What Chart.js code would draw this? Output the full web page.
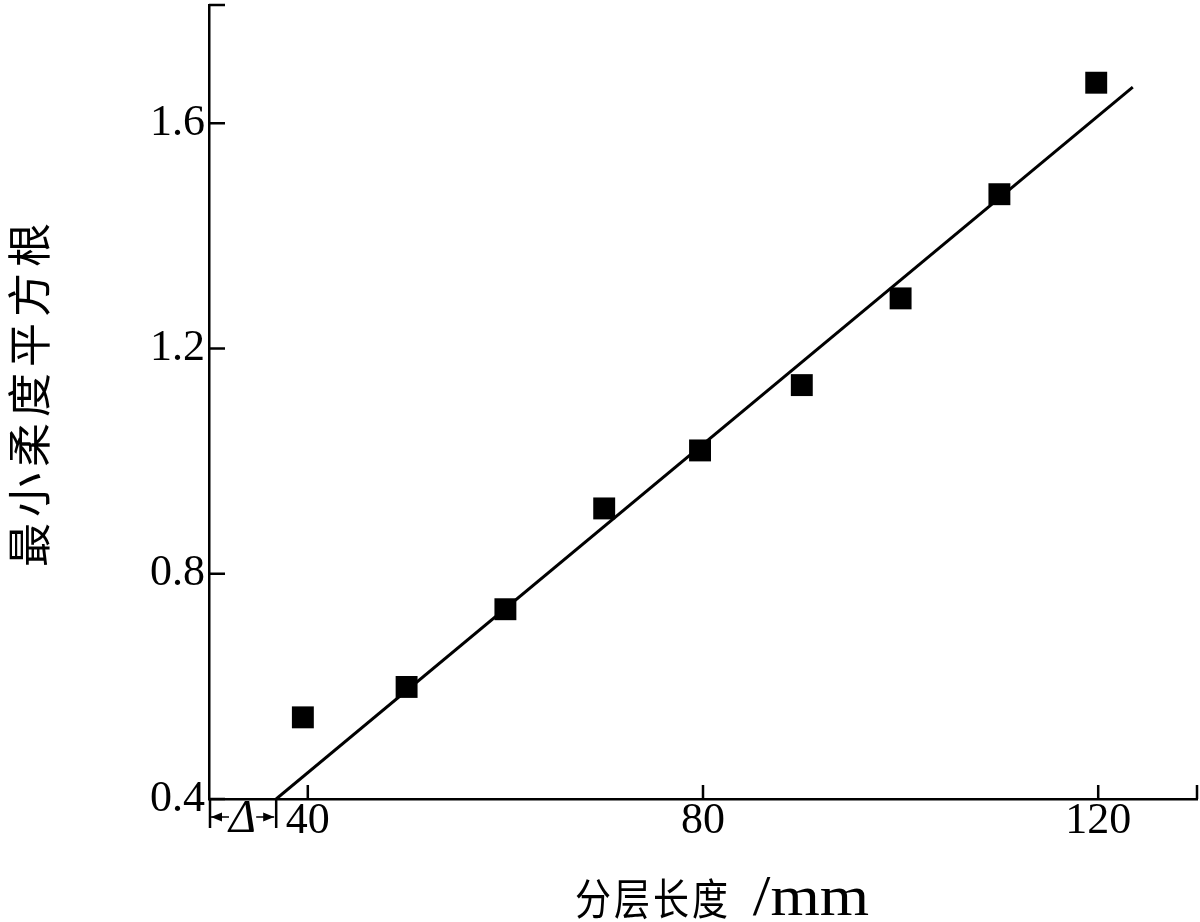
<!DOCTYPE html>
<html>
<head>
<meta charset="utf-8">
<script src="https://cdn.jsdelivr.net/npm/chart.js@4.4.1/dist/chart.umd.min.js"></script>
<style>
  html, body { margin: 0; padding: 0; background: #fff; }
  #wrap { width: 1200px; height: 922px; }
</style>
</head>
<body>
<div id="wrap"><canvas id="c"></canvas></div>
<script>
// measured points (layer length mm, min compliance root)
var layerLength = [39.5, 50, 60, 70, 79.7, 90, 100, 110, 119.8];
var complianceRoot = [0.545, 0.599, 0.737, 0.916, 1.019, 1.135, 1.289, 1.474, 1.672];

// fitted line end points
var fitX = [36.8, 123.5];
var fitY = [0.4, 1.664];

var xTickValues = [40, 80, 120, 130];
var xTickLabels = ['40', '80', '120', ''];
var yTickValues = [0.4, 0.8, 1.2, 1.6, 1.81];
var yTickLabels = ['0.4', '0.8', '1.2', '1.6', ''];

var xTitleCjk = '分层长度';
var xTitleUnit = ' /mm';
var yTitle = '最小柔度平方根';
var deltaLabel = 'Δ';

var serif = '"Liberation Serif", "Noto Sans CJK SC", serif';

function toPoints(xs, ys) {
	var out = [];
	for (var i = 0; i < xs.length; i++) { out.push({x: xs[i], y: ys[i]}); }
	return out;
}

// inward ticks, axis titles and the delta mark
var decor = {
	id: 'decor',
	afterDraw: function(chart) {
		var ctx = chart.ctx;
		var xs = chart.scales.x, ys = chart.scales.y;
		var area = chart.chartArea;
		ctx.save();
		ctx.strokeStyle = '#000';
		ctx.fillStyle = '#000';
		ctx.lineWidth = 2.5;

		// ticks
		xTickValues.forEach(function(v) {
			var px = xs.getPixelForValue(v);
			ctx.beginPath(); ctx.moveTo(px, area.bottom); ctx.lineTo(px, area.bottom - 14); ctx.stroke();
		});
		yTickValues.forEach(function(v) {
			var py = ys.getPixelForValue(v);
			ctx.beginPath(); ctx.moveTo(area.left, py); ctx.lineTo(area.left + 16, py); ctx.stroke();
		});

		// delta dimension
		var x0 = xs.getPixelForValue(30), x1 = xs.getPixelForValue(fitX[0]);
		var yb = area.bottom, ya = area.bottom + 18;
		ctx.beginPath();
		ctx.moveTo(x0 + 1, yb); ctx.lineTo(x0 + 1, yb + 29);
		ctx.moveTo(x1, yb); ctx.lineTo(x1, yb + 29);
		ctx.stroke();
		ctx.lineWidth = 1.5;
		ctx.beginPath();
		ctx.moveTo(x0 + 2, ya); ctx.lineTo(x0 + 20, ya);
		ctx.moveTo(x1 - 2, ya); ctx.lineTo(x1 - 20, ya);
		ctx.stroke();
		ctx.beginPath();
		ctx.moveTo(x0 + 2, ya); ctx.lineTo(x0 + 13, ya - 4.5); ctx.lineTo(x0 + 13, ya + 4.5); ctx.closePath();
		ctx.moveTo(x1 - 2, ya); ctx.lineTo(x1 - 13, ya - 4.5); ctx.lineTo(x1 - 13, ya + 4.5); ctx.closePath();
		ctx.fill();
		ctx.font = 'italic 46px ' + serif;
		ctx.textAlign = 'center';
		ctx.textBaseline = 'middle';
		ctx.fillText(deltaLabel, (x0 + x1) / 2, ya + 3);

		// x title, taller glyphs as in the source
		ctx.save();
		ctx.translate(575, 915);
		ctx.scale(1, 1.2);
		ctx.textAlign = 'left';
		ctx.textBaseline = 'alphabetic';
		ctx.font = '36px ' + serif;
		ctx.letterSpacing = '3px';
		ctx.fillText(xTitleCjk, 0, 0);
		var w = ctx.measureText(xTitleCjk).width;
		ctx.letterSpacing = '0px';
		ctx.translate(w + 6, 0);
		ctx.scale(1.35, 1);
		ctx.font = '47px ' + serif;
		ctx.fillText(xTitleUnit, 0, 0);
		ctx.restore();

		// y title
		ctx.translate(34, 395);
		ctx.rotate(-Math.PI / 2);
		ctx.font = '44px ' + serif;
		ctx.letterSpacing = '6px';
		ctx.fillText(yTitle, 3, 0);
		ctx.restore();
	}
};

new Chart(document.getElementById('c'), {
	type: 'scatter',
	data: {
		datasets: [
			{
				data: toPoints(layerLength, complianceRoot),
				pointStyle: 'rect',
				pointRadius: 15.5,
				pointHoverRadius: 15.5,
				backgroundColor: '#000',
				borderColor: '#000',
				borderWidth: 0
			},
			{
				data: toPoints(fitX, fitY),
				showLine: true,
				borderColor: '#000',
				borderWidth: 3,
				pointRadius: 0
			}
		]
	},
	options: {
		responsive: true,
		maintainAspectRatio: false,
		animation: false,
		devicePixelRatio: 1,
		layout: { autoPadding: false, padding: { top: 5, right: 3, left: 0, bottom: 0 } },
		plugins: { legend: { display: false }, tooltip: { enabled: false } },
		scales: {
			x: {
				type: 'linear',
				min: 30,
				max: 130,
				afterBuildTicks: function(s) { s.ticks = xTickValues.map(function(v) { return {value: v}; }); },
				afterFit: function(s) { s.height = 123; s.paddingLeft = 0; s.paddingRight = 0; },
				grid: { display: false, drawTicks: false },
				border: { display: true, color: '#000', width: 2.5 },
				ticks: {
					autoSkip: false,
					maxRotation: 0,
					padding: 0,
					color: '#000',
					font: { family: serif, size: 44, lineHeight: 1 },
					callback: function(v, i) { return xTickLabels[i]; }
				}
			},
			y: {
				type: 'linear',
				min: 0.4,
				max: 1.81,
				afterBuildTicks: function(s) { s.ticks = yTickValues.map(function(v) { return {value: v}; }); },
				afterFit: function(s) { s.width = 209; s.paddingTop = 0; s.paddingBottom = 0; },
				grid: { display: false, drawTicks: false },
				border: { display: true, color: '#000', width: 2.5 },
				ticks: {
					autoSkip: false,
					padding: 4,
					color: '#000',
					font: { family: serif, size: 44, lineHeight: 1 },
					callback: function(v, i) { return yTickLabels[i]; }
				}
			}
		}
	},
	plugins: [decor]
});
</script>
</body>
</html>
